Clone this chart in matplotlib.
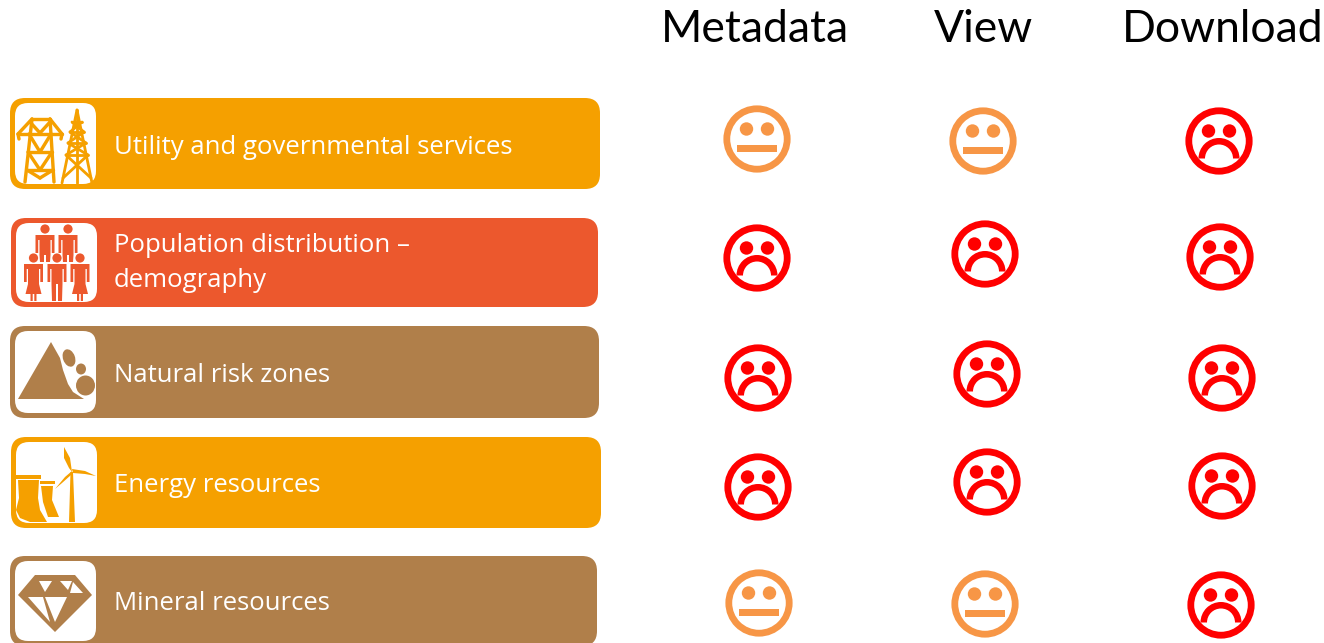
import matplotlib
matplotlib.use('Agg')
import matplotlib.pyplot as plt
from matplotlib.patches import Circle, Ellipse, FancyBboxPatch, Polygon, Rectangle, Wedge

columns = ['Metadata', 'View', 'Download']
categories = ['Utility and governmental services', 'Population distribution \u2013\ndemography',
              'Natural risk zones', 'Energy resources', 'Mineral resources']
ratings = [['neutral', 'neutral', 'sad'],
           ['sad', 'sad', 'sad'],
           ['sad', 'sad', 'sad'],
           ['sad', 'sad', 'sad'],
           ['neutral', 'neutral', 'sad']]

# layout, in reference pixels
column_x = [755, 983, 1223]
face_x = [[757, 983, 1219], [757, 985, 1220], [758, 987, 1222], [758, 987, 1222], [759, 985, 1221]]
face_y = [[139, 141, 141], [258, 254, 257], [378, 374, 378], [487, 482, 486], [603, 604, 605]]
bar_left = [10, 11, 10, 11, 10]
bar_right = [600, 598, 599, 601, 597]
bar_top = [98, 218, 326, 437, 556]
bar_bottom = [189, 307, 418, 528, 646]
label_y = [147, 263, 375, 486, 604]

ORANGE = '#F5A000'
RED_ORANGE = '#EC582D'
BROWN = '#B07F4A'
bar_colors = [ORANGE, RED_ORANGE, BROWN, ORANGE, BROWN]
face_colors = {'neutral': '#F79646', 'sad': '#FF0000'}

fig = plt.figure(figsize=(13.24, 6.43), dpi=100)
ax = fig.add_axes([0, 0, 1, 1])
ax.set_xlim(0, 1324)
ax.set_ylim(643, 0)
ax.axis('off')

PX = 0.72  # points per pixel at this dpi


def draw_face(x, y, kind):
    c = face_colors[kind]
    ax.add_patch(Circle((x, y), 30.2, fill=False, ec=c, lw=6.8 * PX))
    for dx in (-10.5, 10.5):
        ax.add_patch(Circle((x + dx, y - 10), 6.7, fc=c, ec='none'))
    if kind == 'neutral':
        ax.add_patch(Rectangle((x - 20, y + 6), 40, 7, fc=c, ec='none'))
    else:
        ax.add_patch(Wedge((x, y + 17.5), 20.5, 180, 360, width=6.5, fc=c, ec='none'))


def lines(segments, c, lw):
    for x1, y1, x2, y2 in segments:
        ax.plot([x1, x2], [y1, y2], color=c, lw=lw * PX, solid_capstyle='round')


def draw_towers(c):
    lines([(32, 119, 25, 182), (50, 119, 54, 182), (32, 119, 50, 119),
           (32, 119, 18, 134), (50, 119, 62, 134), (18, 134, 62, 134),
           (28, 152, 52, 152), (27, 170, 53, 170),
           (30, 122, 40, 133), (50, 122, 40, 133), (29, 134, 40, 152), (51, 134, 40, 152),
           (28, 152, 40, 170), (52, 152, 40, 170), (27, 170, 40, 178), (53, 170, 40, 178),
           (18, 134, 19, 139), (62, 134, 61, 139)], c, 3.4)
    lines([(77, 110, 62, 183), (77, 110, 92, 183), (77, 110, 77, 183),
           (72, 122, 82, 122), (70, 132, 84, 132), (68, 143, 86, 143), (66, 155, 88, 155),
           (72, 122, 84, 132), (82, 122, 70, 132), (70, 132, 86, 143), (84, 132, 68, 143),
           (68, 143, 88, 155), (86, 143, 66, 155), (66, 155, 91, 178), (88, 155, 63, 178)], c, 2.8)


def draw_person(x, head_y, leg_bottom, dress, c):
    ax.add_patch(Circle((x, head_y), 4.6, fc=c, ec='none'))
    top = head_y + 6
    pts = [(x - 9.5, top), (x + 9.5, top), (x + 9.5, top + 18), (x + 6.8, top + 18), (x + 6.8, top + 5),
           (x + 5.5, top + 5), (x + 5.5, top + 20)]
    if dress:
        pts += [(x + 8, top + 30), (x + 3, top + 30), (x + 3, leg_bottom), (x + 0.8, leg_bottom),
                (x + 0.8, top + 30), (x - 0.8, top + 30), (x - 0.8, leg_bottom), (x - 3, leg_bottom),
                (x - 3, top + 30), (x - 8, top + 30)]
    else:
        pts += [(x + 5, leg_bottom), (x + 1, leg_bottom), (x + 1, top + 20), (x - 1, top + 20),
                (x - 1, leg_bottom), (x - 5, leg_bottom)]
    pts += [(x - 5.5, top + 20), (x - 5.5, top + 5), (x - 6.8, top + 5), (x - 6.8, top + 18),
            (x - 9.5, top + 18)]
    ax.add_patch(Polygon(pts, closed=True, fc=c, ec='none'))


def draw_people(c):
    draw_person(45, 229, 262, False, c)
    draw_person(68, 229, 262, False, c)
    draw_person(33.5, 258, 301, True, c)
    draw_person(57, 258, 301, False, c)
    draw_person(80, 258, 301, True, c)


def draw_rocks(c):
    ax.add_patch(Polygon([(51, 342), (18, 399), (84, 399), (73, 392), (68, 384), (63, 370), (60, 358)],
                         closed=True, fc=c, ec='none'))
    ax.add_patch(Ellipse((69, 358), 12, 18, angle=-20, fc=c, ec='none'))
    ax.add_patch(Ellipse((81, 369), 10, 11, fc=c, ec='none'))
    ax.add_patch(Ellipse((85.5, 385.5), 19, 20, fc=c, ec='none'))


def draw_energy(c):
    ax.add_patch(Polygon([(70.5, 472), (73, 472), (75, 522), (69, 522)], closed=True, fc=c, ec='none'))
    ax.add_patch(Polygon([(64, 447), (70, 458), (72, 472), (69, 468), (64, 458)], closed=True, fc=c, ec='none'))
    ax.add_patch(Polygon([(96, 476), (85, 471), (72, 469), (73, 473), (85, 474)], closed=True, fc=c, ec='none'))
    ax.add_patch(Polygon([(55, 489), (65, 477), (72, 471), (71, 475), (62, 483)], closed=True, fc=c, ec='none'))
    ax.add_patch(Rectangle((16, 475), 25, 3.5, fc=c, ec='none'))
    ax.add_patch(Polygon([(18, 480), (39, 480), (38, 498), (40, 510), (47, 522), (30, 522), (20, 518), (16, 510),
                          (19, 498)], closed=True, fc=c, ec='none'))
    ax.add_patch(Rectangle((40, 481), 15, 3, fc=c, ec='none'))
    ax.add_patch(Polygon([(41, 486), (53, 486), (52, 500), (59, 517), (48, 517), (43, 502)],
                         closed=True, fc=c, ec='none'))


def draw_diamond(c):
    ax.add_patch(Polygon([(18, 595), (35, 575), (75, 575), (92, 595), (55, 632)], closed=True, fc=c, ec='none'))
    facets = [[(39, 581), (52, 581), (45, 592)], [(60, 581), (72, 581), (68, 590)],
              [(73, 582), (83, 593), (70, 593)], [(28, 597), (43, 597), (50, 622)],
              [(45, 597), (67, 597), (55, 622)]]
    for f in facets:
        ax.add_patch(Polygon(f, closed=True, fc='white', ec='none'))


icons = [draw_towers, draw_people, draw_rocks, draw_energy, draw_diamond]

for i, name in enumerate(categories):
    left, right, top, bottom = bar_left[i], bar_right[i], bar_top[i], bar_bottom[i]
    c = bar_colors[i]
    ax.add_patch(FancyBboxPatch((left, top), right - left, bottom - top,
                                boxstyle='round,pad=0,rounding_size=15', fc=c, ec='none'))
    ax.add_patch(FancyBboxPatch((left + 5, top + 5), 81, bottom - top - 10,
                                boxstyle='round,pad=0,rounding_size=13', fc='white', ec='none'))
    icons[i](c)
    ax.text(114, label_y[i], name, color='white', fontsize=18.5, family='Open Sans',
            va='center', ha='left', linespacing=1.48)
    for j, kind in enumerate(ratings[i]):
        draw_face(face_x[i][j], face_y[i][j], kind)

for x, name in zip(column_x, columns):
    ax.text(x, 30, name, color='black', fontsize=32, family='Lato', va='center', ha='center')

fig.savefig('out.png', dpi=100)
